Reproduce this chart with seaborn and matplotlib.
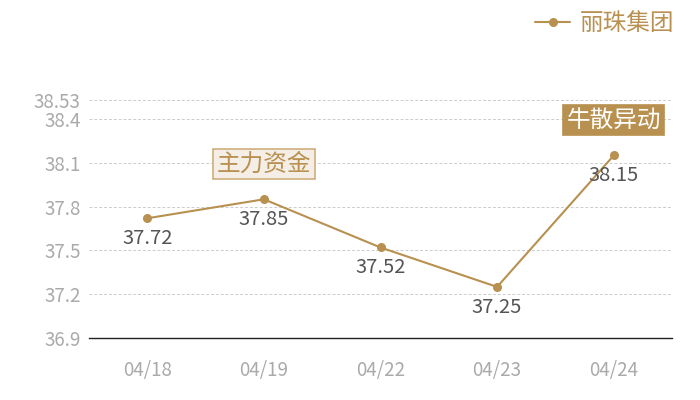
import matplotlib
matplotlib.use("Agg")
import matplotlib.pyplot as plt
import pandas as pd
import seaborn as sns

DATES = ["04/18", "04/19", "04/22", "04/23", "04/24"]
PRICES = [37.72, 37.85, 37.52, 37.25, 38.15]
Y_TICKS = [36.9, 37.2, 37.5, 37.8, 38.1, 38.4, 38.53]
SERIES = "丽珠集团"
TAG_DATES = ["04/19", "04/24"]
TAG_TEXTS = ["主力资金", "牛散异动"]

GOLD = "#b8904f"

sns.set_theme(style="white")
plt.rcParams["font.family"] = ["Noto Sans CJK SC", "DejaVu Sans"]

df = pd.DataFrame({"date": DATES, "price": PRICES})
df["x"] = range(len(df))

fig = plt.figure(figsize=(7, 4), dpi=100)
ax = fig.add_axes([89 / 700, 62 / 400, 583 / 700, 238 / 400])

sns.lineplot(data=df, x="x", y="price", ax=ax, color=GOLD, linewidth=1.5,
             marker="o", markersize=6.5, markeredgewidth=0, label=SERIES)

for x, y in zip(df["x"], df["price"]):
    ax.annotate(f"{y:.2f}", (x, y), xytext=(0, -7), textcoords="offset points",
                ha="center", va="top", fontsize=14.5, color="#555555")

# tag boxes above selected points
tag_styles = [
    dict(color=GOLD, bbox=dict(boxstyle="square,pad=0.15", fc="#f4eee6", ec="#cfae7c", lw=1.2)),
    dict(color="white", bbox=dict(boxstyle="square,pad=0.15", fc=GOLD, ec=GOLD, lw=1.2)),
]
for d, t, st in zip(TAG_DATES, TAG_TEXTS, tag_styles):
    i = DATES.index(d)
    ax.annotate(t, (i, PRICES[i]), xytext=(0, 17), textcoords="offset points",
                ha="center", va="bottom", fontsize=17, **st)

ax.set_xlim(-0.5, len(DATES) - 0.5)
ax.set_ylim(36.9, 38.53)
ax.set_xticks(df["x"])
ax.set_xticklabels(DATES)
ax.set_yticks(Y_TICKS)
ax.set_yticklabels([f"{v:g}" for v in Y_TICKS])
ax.tick_params(axis="both", length=0, labelsize=13.5, labelcolor="#aaaaaa")
ax.tick_params(axis="x", pad=16)
ax.tick_params(axis="y", pad=6)
ax.set_xlabel("")
ax.set_ylabel("")

ax.grid(axis="y", color="#cccccc", linestyle=(0, (3, 2)), linewidth=0.7)
ax.grid(axis="x", visible=False)
for s in ["top", "right", "left"]:
    ax.spines[s].set_visible(False)
ax.spines["bottom"].set_color("#222222")
ax.spines["bottom"].set_linewidth(1.0)

leg = ax.legend(loc="upper right", bbox_to_anchor=(1.02, 1.41), frameon=False,
                fontsize=17, handlelength=1.5, handletextpad=0.4, borderaxespad=0)
for txt in leg.get_texts():
    txt.set_color(GOLD)

fig.savefig("out.png", dpi=100)
